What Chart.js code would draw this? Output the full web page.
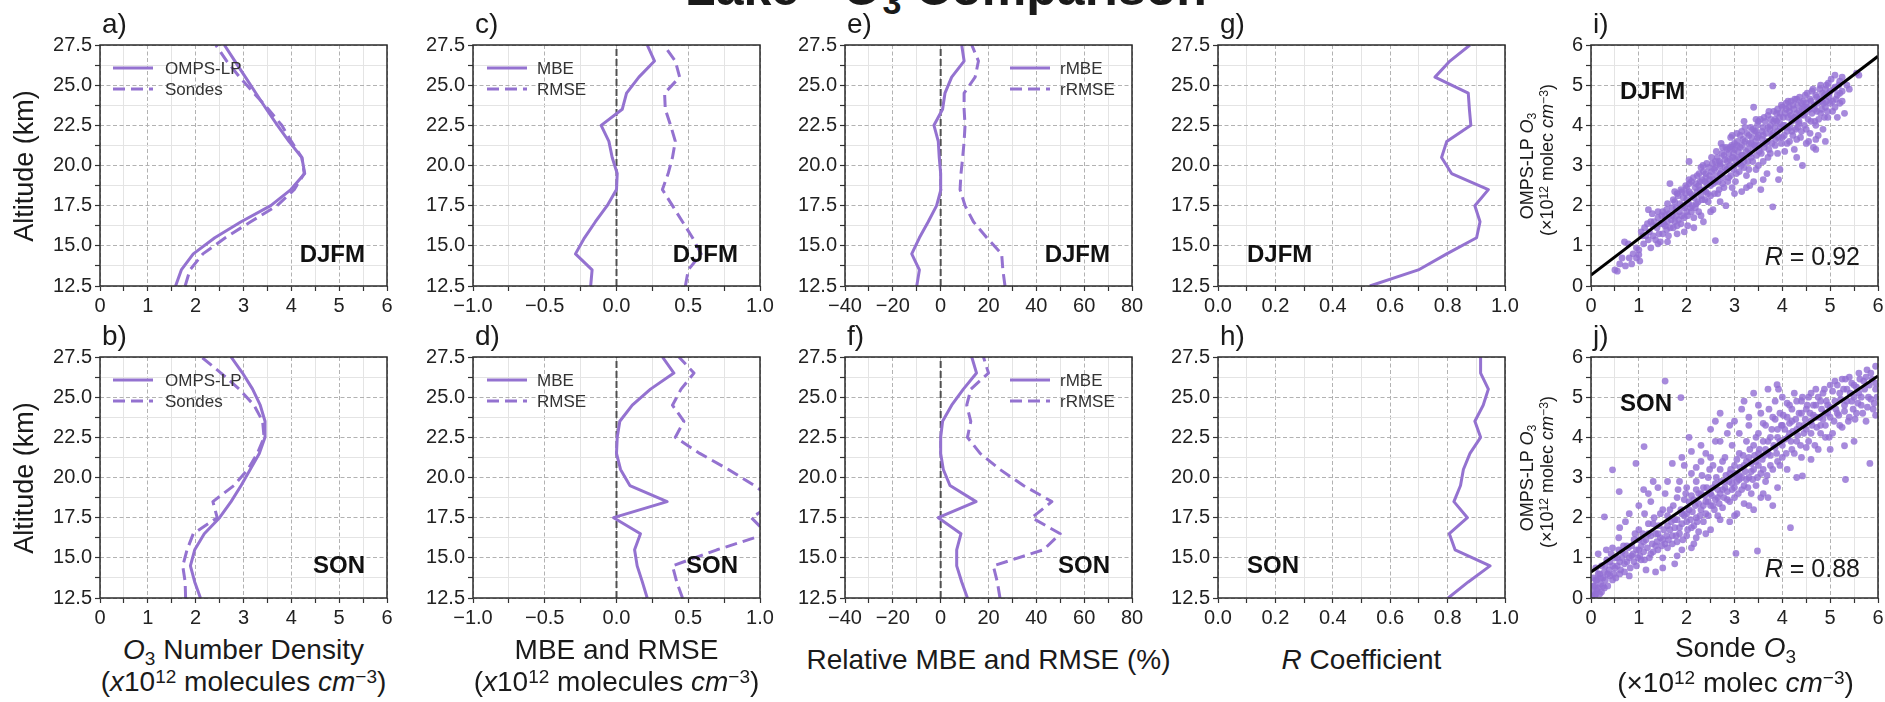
<!DOCTYPE html>
<html>
<head>
<meta charset="utf-8">
<script src="https://cdn.jsdelivr.net/npm/chart.js@4.4.0/dist/chart.umd.min.js"></script>
<style>
  html, body { margin: 0; padding: 0; background: #fff; }
  body { width: 1885px; height: 702px; position: relative; overflow: hidden;
         font-family: "Liberation Sans", Arial, Helvetica, sans-serif; color: #1a1a1a; }
  canvas { position: absolute; }
  .t { position: absolute; white-space: nowrap; line-height: 1; }
  .sup { position: relative; top: -0.45em; font-size: 0.68em; }
  .sub { position: relative; top: 0.28em; font-size: 0.68em; }
  i { font-style: italic; }
</style>
</head>
<body>
<script>
// ---- profile altitudes (km) ----
const altitude = [12.5, 13.5, 14.5, 15.5, 16.5, 17.5, 18.5, 19.5, 20.5, 21.5, 22.5, 23.5, 24.5, 25.5, 26.5, 27.5];

// ---- O3 number density profiles (x10^12 molecules cm^-3) ----
const ompsDJFM  = [1.58, 1.70, 1.95, 2.40, 2.95, 3.57, 3.99, 4.28, 4.22, 3.95, 3.71, 3.48, 3.26, 3.04, 2.82, 2.60];
const sondeDJFM = [1.78, 1.88, 2.15, 2.62, 3.15, 3.70, 4.06, 4.27, 4.22, 4.00, 3.80, 3.52, 3.22, 2.92, 2.65, 2.42];
const ompsSON   = [2.10, 1.98, 1.89, 1.98, 2.18, 2.50, 2.74, 2.95, 3.14, 3.33, 3.45, 3.45, 3.35, 3.19, 2.98, 2.74];
const sondeSON  = [1.79, 1.78, 1.73, 1.82, 1.95, 2.45, 2.36, 2.80, 3.09, 3.29, 3.43, 3.40, 3.22, 2.91, 2.53, 2.12];

// ---- absolute errors (x10^12 molecules cm^-3) ----
const mbeDJFM  = [-0.18, -0.17, -0.286, -0.223, -0.147, -0.065, 0.0, 0.005, -0.03, -0.053, -0.107, 0.04, 0.07, 0.156, 0.265, 0.214];
const rmseDJFM = [0.48, 0.50, 0.59, 0.53, 0.46, 0.39, 0.32, 0.36, 0.39, 0.41, 0.377, 0.34, 0.335, 0.44, 0.41, 0.33];
const mbeSON   = [0.214, 0.18, 0.144, 0.126, 0.167, -0.02, 0.353, 0.093, 0.028, 0.0, 0.005, 0.023, 0.11, 0.237, 0.40, 0.32];
const rmseSON  = [0.46, 0.42, 0.39, 0.70, 1.05, 0.94, 1.12, 0.96, 0.78, 0.58, 0.41, 0.47, 0.39, 0.45, 0.54, 0.435];

// ---- relative errors (%) ----
const rmbeDJFM  = [-10, -8.9, -12.1, -8.9, -5.2, -1.7, 0.1, 0, -0.6, -1.0, -2.8, 0.8, 1.8, 4.6, 9.8, 8.8];
const rrmseDJFM = [26.9, 26, 25.5, 19.3, 13.7, 10.2, 8.1, 8.5, 9.2, 9.8, 10.2, 9.8, 9.8, 14.4, 15.8, 13];
const rmbeSON   = [11.2, 8.8, 6.7, 6.7, 8.5, -1.0, 14.8, 3.9, 1.1, 0, 0, 0.8, 4.6, 9.5, 15, 13];
const rrmseSON  = [24.8, 23.7, 22, 43, 50, 38.1, 46.5, 34.6, 24.8, 16.5, 11.2, 12.6, 10.9, 12.6, 20, 17.9];

// ---- correlation coefficients ----
const rDJFM = [0.529, 0.698, 0.797, 0.901, 0.913, 0.895, 0.942, 0.814, 0.779, 0.797, 0.881, 0.876, 0.872, 0.756, 0.808, 0.878];
const rSON  = [0.802, 0.872, 0.948, 0.826, 0.806, 0.869, 0.822, 0.845, 0.855, 0.878, 0.915, 0.895, 0.924, 0.942, 0.915, 0.915];

// ---- collocated pairs [sonde, OMPS-LP] (x10^12 molec cm^-3), DJFM ----
const pairsDJFM = [
 [0.5,0.4],[0.55,0.37],[0.6,0.55],[0.65,0.7],[0.7,1.1],[0.72,0.5],[0.78,1.05],[0.8,0.7],[0.85,0.55],[0.88,0.8],
 [0.95,0.95],[1.0,0.9],[1.0,0.78],[1.02,0.62],[1.08,1.25],[1.12,1.45],[1.18,1.55],[1.2,1.9],[1.22,1.35],[1.28,1.8],
 [1.3,1.5],[1.35,1.15],[1.4,1.7],[1.42,1.3],[1.45,1.1],[1.5,1.85],[1.52,1.55],[1.55,1.75],[1.58,1.4],[1.6,2.05],
 [1.62,1.25],[1.65,2.55],[1.68,1.65],[1.7,1.95],[1.72,1.45],[1.75,2.1],[1.78,1.75],[1.8,1.3],[1.82,2.25],[1.85,1.85],
 [1.88,1.55],[1.9,2.35],[1.92,2.0],[1.95,1.7],[1.98,2.5],[2.0,2.15],[2.0,1.85],[2.02,1.5],[2.05,3.1],[2.05,2.35],
 [2.08,1.95],[2.1,2.6],[2.12,2.25],[2.15,1.7],[2.18,2.45],[2.2,2.05],[2.22,2.75],[2.25,1.85],[2.28,2.4],[2.3,2.95],
 [2.32,2.15],[2.35,1.6],[2.38,2.6],[2.4,2.35],[2.42,3.05],[2.45,2.1],[2.48,2.75],[2.5,2.5],[2.52,3.2],[2.55,1.9],
 [2.58,2.9],[2.6,1.13],[2.6,2.6],[2.62,3.35],[2.65,2.3],[2.68,3.1],[2.7,2.8],[2.72,3.55],[2.75,2.55],[2.78,3.25],
 [2.8,2.95],[2.82,2.0],[2.85,3.4],[2.88,2.7],[2.9,3.15],[2.92,3.7],[2.95,2.45],[2.98,3.3],[3.0,3.0],[3.0,3.55],
 [3.02,2.6],[3.05,3.8],[3.08,3.2],[3.1,2.85],[3.12,3.45],[3.15,2.35],[3.18,3.65],[3.2,3.1],[3.22,3.95],[3.25,2.75],
 [3.28,3.4],[3.3,3.75],[3.32,2.5],[3.35,3.2],[3.38,3.9],[3.4,4.45],[3.42,3.5],[3.45,2.9],[3.48,3.7],[3.5,4.1],
 [3.52,3.35],[3.55,2.4],[3.58,3.85],[3.6,3.1],[3.62,4.2],[3.65,3.55],[3.68,2.8],[3.7,3.95],[3.72,4.35],[3.75,3.3],
 [3.78,3.75],[3.8,4.98],[3.8,1.97],[3.82,4.1],[3.85,3.5],[3.88,4.3],[3.9,3.85],[3.92,2.65],[3.95,4.05],[3.98,4.5],
 [4.0,3.7],[4.02,4.2],[4.05,3.35],[4.08,4.4],[4.1,3.95],[4.12,4.6],[4.15,3.6],[4.18,4.25],[4.2,3.85],[4.22,4.5],
 [4.25,3.4],[4.28,4.15],[4.3,4.65],[4.32,3.95],[4.35,4.35],[4.38,3.7],[4.4,4.55],[4.42,3.0],[4.45,4.25],[4.48,4.75],
 [4.5,3.9],[4.52,4.45],[4.55,3.6],[4.58,4.65],[4.6,4.1],[4.62,4.85],[4.65,3.45],[4.68,4.4],[4.7,4.0],[4.72,4.7],
 [4.75,3.75],[4.78,4.9],[4.8,4.3],[4.82,4.6],[4.85,3.9],[4.88,4.75],[4.9,4.45],[4.92,5.0],[4.95,4.2],[4.98,4.8],
 [5.0,4.55],[5.02,5.15],[5.05,4.35],[5.08,4.9],[5.1,5.25],[5.12,4.65],[5.15,4.2],[5.18,5.0],[5.2,4.8],[5.25,4.6],
 [5.55,5.3],[3.05,3.5],[3.15,3.25],[3.35,3.55],[3.45,3.85],[3.6,3.75],[3.75,4.0],[3.85,4.15],[3.95,4.3],[4.05,4.0],
 [4.15,4.35],[4.25,4.2],[4.35,4.1],[4.45,4.45],[2.4,2.7],[2.55,2.65],[2.7,3.0],[2.85,3.1],[2.95,3.45],[2.25,2.5],
 [1.1,1.05],[1.15,1.25],[1.2,1.15],[1.25,1.6],[1.3,1.25],[1.32,1.6],[1.38,1.45],[1.4,1.85],[1.45,1.55],[1.48,1.75],
 [1.5,1.3],[1.55,1.5],[1.58,1.9],[1.6,1.6],[1.63,1.8],[1.66,1.45],[1.7,1.75],[1.72,2.15],[1.75,1.6],[1.78,1.95],
 [1.8,2.3],[1.83,1.65],[1.86,2.05],[1.88,2.4],[1.9,1.75],[1.93,2.2],[1.96,1.95],[1.98,2.3],[2.0,2.45],[2.02,1.75],
 [2.04,2.05],[2.06,2.55],[2.08,2.3],[2.1,1.85],[2.12,2.0],[2.14,2.7],[2.16,2.2],[2.18,1.95],[2.2,2.55],[2.22,2.35],
 [2.24,2.1],[2.26,2.8],[2.28,2.6],[2.3,2.25],[2.32,2.65],[2.34,3.0],[2.36,2.4],[2.38,2.15],[2.4,2.8],[2.42,2.55],
 [2.44,2.3],[2.46,2.95],[2.48,2.65],[2.5,2.25],[2.52,2.85],[2.54,3.05],[2.56,2.55],[2.58,2.3],[2.6,2.95],[2.62,2.75],
 [2.64,3.2],[2.66,2.6],[2.68,2.4],[2.7,3.05],[2.72,2.85],[2.74,3.3],[2.76,2.7],[2.78,2.45],[2.8,3.15],[2.82,3.45],
 [2.84,2.9],[2.86,2.6],[2.88,3.3],[2.9,3.0],[2.92,2.75],[2.94,3.5],[2.96,3.2],[2.98,2.9],[3.0,3.4],[3.02,3.15],
 [3.04,2.8],[3.06,3.6],[3.08,3.35],[3.1,3.05],[3.12,3.75],[3.14,3.0],[3.16,3.5],[3.18,3.25],[3.2,2.95],[3.22,3.6],
 [3.24,3.35],[3.26,3.8],[3.28,3.1],[3.3,3.55],[3.32,3.3],[3.34,3.95],[3.36,3.7],[3.38,3.1],[3.4,3.45],[3.42,3.85],
 [3.44,3.6],[3.46,3.25],[3.48,4.0],[3.5,3.75],[3.52,3.5],[3.54,4.15],[3.56,3.3],[3.58,3.65],[3.6,3.95],[3.62,3.45],
 [3.64,4.1],[3.66,3.8],[3.68,3.6],[3.7,4.25],[3.72,3.4],[3.74,3.9],[3.76,4.15],[3.78,3.55],[3.8,3.8],[3.82,4.35],
 [3.84,3.95],[3.86,3.65],[3.88,4.1],[3.9,4.4],[3.92,3.7],[3.94,4.2],[3.96,3.95],[3.98,3.55],[4.0,4.45],[4.02,4.0],
 [4.04,3.75],[4.06,4.3],[4.08,4.55],[4.1,3.85],[4.12,4.2],[4.14,4.45],[4.16,3.95],[4.18,4.6],[4.2,4.1],[4.22,3.75],
 [4.24,4.4],[4.26,4.65],[4.28,3.9],[4.3,4.3],[4.32,4.5],[4.34,4.05],[4.36,4.7],[4.38,4.25],[4.4,3.85],[4.42,4.4],
 [4.44,4.6],[4.46,4.0],[4.48,4.3],[4.5,4.55],[4.52,4.8],[4.54,4.15],[4.56,4.4],[4.58,3.8],[4.6,4.6],[4.62,4.3],
 [4.64,4.9],[4.66,4.5],[4.68,4.1],[4.7,4.75],[4.72,4.35],[4.74,4.55],[4.76,4.15],[4.78,4.65],[4.8,5.0],[4.82,4.4],
 [4.84,4.8],[4.86,4.55],[4.88,4.2],[4.9,4.9],[4.92,4.6],[4.94,4.35],[4.96,5.05],[4.98,4.7],[5.0,4.85],[5.05,4.6],
 [5.1,4.95],[5.15,4.75],[5.2,5.1],[5.25,4.85],[5.3,4.3],[5.35,5.0],[5.2,4.55],[5.6,5.25],[5.4,4.9],[3.3,2.9],
 [3.5,3.0],[3.7,3.2],[3.9,3.3],[4.1,3.55],[4.3,3.65],[4.5,3.55],[4.7,3.65],[4.3,3.2],[3.6,2.65],[3.4,2.6],
 [3.95,2.9],[3.25,2.45],[3.0,2.3],[2.7,2.1],[2.5,1.85],[2.3,1.75],[2.15,1.45],[1.95,1.35],[1.8,1.5],[1.6,1.1],
 [1.4,1.05],[1.25,0.95],[1.05,1.35],[0.95,0.7],[1.75,2.35],[2.05,2.65],[2.35,2.85],[2.6,3.1],[2.9,3.45],[3.15,3.85],
 [3.45,4.15],[3.2,4.1],[2.95,3.75],[2.75,3.45],[4.7,3.4],[4.9,3.6],[5.1,4.45],[5.25,5.2]
];

// ---- collocated pairs [sonde, OMPS-LP] (x10^12 molec cm^-3), SON ----
const pairsSON = [
 [0.02,0.05],[0.05,0.15],[0.08,0.3],[0.1,0.1],[0.12,0.45],[0.15,0.25],[0.05,0.5],[0.18,0.6],[0.2,0.35],[0.1,0.75],
 [0.22,0.15],[0.25,0.5],[0.3,0.8],[0.15,1.1],[0.28,0.25],[0.35,0.6],[0.4,0.9],[0.32,1.2],[0.45,0.45],[0.5,0.75],
 [0.55,1.0],[0.45,1.25],[0.6,0.6],[0.65,1.15],[0.7,0.85],[0.58,1.5],[0.75,1.3],[0.8,0.55],[0.85,1.05],[0.9,1.45],
 [0.72,1.9],[0.95,0.8],[1.0,1.2],[1.0,1.7],[1.05,0.95],[1.1,1.4],[1.12,2.1],[1.15,0.7],[1.2,1.6],[1.25,1.1],
 [1.25,2.4],[1.3,1.85],[1.35,1.3],[1.35,0.65],[1.4,1.6],[1.45,2.1],[1.5,1.0],[1.5,1.45],[1.55,2.6],[1.6,1.8],
 [1.6,1.25],[1.65,2.2],[1.7,1.55],[1.7,3.35],[1.75,1.95],[1.75,0.85],[1.8,2.5],[1.8,1.4],[1.85,2.9],[1.85,1.75],
 [1.9,2.1],[1.9,1.2],[1.95,2.45],[1.95,3.3],[2.0,1.9],[2.0,1.55],[2.0,2.75],[2.05,4.0],[2.05,2.2],[2.1,1.75],
 [2.1,3.1],[2.15,2.45],[2.15,1.35],[2.2,2.0],[2.2,2.9],[2.25,2.6],[2.25,1.65],[2.3,3.4],[2.3,2.2],[2.35,1.9],
 [2.35,2.75],[2.4,3.6],[2.4,2.4],[2.45,2.05],[2.45,3.0],[2.5,2.6],[2.5,4.2],[2.5,1.7],[2.55,3.3],[2.55,2.3],
 [2.6,2.85],[2.6,3.9],[2.65,2.5],[2.65,2.05],[2.7,3.2],[2.7,4.6],[2.75,2.7],[2.75,2.25],[2.8,3.5],[2.8,2.9],
 [2.85,4.1],[2.85,2.45],[2.9,3.1],[2.9,1.9],[2.95,2.7],[2.95,3.8],[3.0,3.3],[3.0,2.5],[3.0,4.4],[3.05,2.9],
 [3.05,2.1],[3.1,3.6],[3.1,3.05],[3.15,2.7],[3.15,4.7],[3.2,3.3],[3.2,2.35],[3.25,3.9],[3.25,2.95],[3.3,3.5],
 [3.3,4.3],[3.35,2.6],[3.35,3.15],[3.4,3.8],[3.4,5.1],[3.45,3.4],[3.45,2.8],[3.5,4.1],[3.5,3.6],[3.55,2.5],
 [3.55,4.6],[3.6,3.9],[3.6,3.2],[3.65,4.3],[3.65,2.9],[3.7,3.6],[3.7,5.2],[3.75,4.0],[3.75,3.3],[3.8,4.5],
 [3.8,2.3],[3.85,3.75],[3.85,4.9],[3.9,4.2],[3.9,3.4],[3.95,4.6],[3.95,3.9],[4.0,4.3],[4.0,3.5],[4.0,5.0],
 [4.05,3.95],[4.1,4.5],[4.1,3.2],[4.15,4.8],[4.15,4.1],[4.2,3.7],[4.2,4.4],[4.25,5.1],[4.3,4.2],[4.3,3.9],
 [4.35,4.6],[4.4,3.5],[4.4,4.9],[4.45,4.3],[4.5,4.7],[4.5,3.75],[4.55,5.0],[4.6,4.4],[4.6,4.1],[4.65,4.8],
 [4.7,4.5],[4.7,5.2],[4.75,3.7],[4.8,4.3],[4.8,4.9],[4.85,5.1],[4.9,4.6],[4.9,4.0],[4.95,4.8],[5.0,5.3],
 [5.0,4.5],[5.05,4.1],[5.1,4.9],[5.1,5.4],[5.15,4.6],[5.2,5.1],[5.2,4.3],[5.25,5.45],[5.3,4.8],[5.35,5.2],
 [5.4,4.5],[5.4,5.5],[5.45,4.9],[5.5,5.3],[5.55,4.6],[5.6,5.1],[5.6,5.6],[5.65,4.8],[5.7,5.4],[5.75,4.4],
 [5.8,5.0],[5.85,5.6],[5.9,4.7],[5.95,5.2],[5.95,4.55],
 [1.55,5.4],[1.88,4.99],[0.45,3.19],[0.28,2.02],[0.94,3.35],[1.11,3.77],[0.59,2.65],[3.03,1.11],[3.48,1.17],[4.17,1.75],
 [5.32,2.95],[5.83,3.35],[4.42,3.04],[5.3,3.79],[3.89,5.31],[5.77,5.68],[5.95,5.77],
 [0.05,0.3],[0.08,0.05],[0.1,0.45],[0.12,0.2],[0.15,0.6],[0.18,0.1],[0.2,0.5],[0.22,0.8],[0.25,0.3],[0.28,0.65],
 [0.3,0.45],[0.33,0.95],[0.35,0.3],[0.38,0.7],[0.4,0.55],[0.42,1.1],[0.45,0.8],[0.48,0.6],[0.5,1.0],[0.52,0.5],
 [0.55,0.8],[0.58,1.2],[0.6,0.9],[0.62,0.7],[0.65,1.0],[0.68,1.3],[0.7,0.65],[0.72,1.1],[0.75,0.9],[0.78,1.25],
 [0.8,1.0],[0.82,0.75],[0.85,1.3],[0.88,1.1],[0.9,0.9],[0.92,1.6],[0.95,1.2],[0.98,1.0],
 [1.0,1.45],[1.02,1.05],[1.05,1.3],[1.08,1.6],[1.1,1.15],[1.12,0.95],[1.15,1.45],[1.18,1.25],[1.2,1.85],[1.22,1.0],
 [1.25,1.55],[1.28,1.35],[1.3,1.15],[1.32,2.0],[1.35,1.6],[1.38,1.4],[1.4,1.2],[1.42,1.8],[1.45,1.5],[1.48,1.3],
 [1.5,2.2],[1.52,1.7],[1.55,1.35],[1.58,1.55],[1.6,2.05],[1.62,1.45],[1.65,1.7],[1.68,1.9],[1.7,1.35],[1.72,2.3],
 [1.75,1.75],[1.78,1.55],[1.8,1.95],[1.82,2.7],[1.85,1.6],[1.88,2.2],[1.9,1.85],[1.92,1.45],[1.95,2.05],[1.98,2.6],
 [2.0,2.1],[2.02,1.7],[2.05,2.4],[2.08,1.95],[2.1,2.55],[2.12,2.15],[2.15,1.8],[2.18,2.3],[2.2,2.7],[2.22,1.9],
 [2.25,2.35],[2.28,2.05],[2.3,2.6],[2.32,3.05],[2.35,2.3],[2.38,2.55],[2.4,2.1],[2.42,2.75],[2.45,2.4],[2.48,3.2],
 [2.5,2.3],[2.52,2.55],[2.55,2.75],[2.58,2.2],[2.6,2.45],[2.62,3.0],[2.65,2.7],[2.68,2.35],[2.7,2.6],[2.72,2.9],
 [2.75,3.4],[2.78,2.5],[2.8,2.75],[2.82,3.05],[2.85,2.65],[2.88,2.9],[2.9,2.4],[2.92,3.2],[2.95,2.85],[2.98,3.0],
 [3.0,2.75],[3.02,3.1],[3.05,3.45],[3.08,2.6],[3.1,2.95],[3.12,3.25],[3.15,3.0],[3.18,3.55],[3.2,2.8],[3.22,3.15],
 [3.25,3.4],[3.28,2.75],[3.3,3.0],[3.32,3.7],[3.35,3.35],[3.38,2.95],[3.4,3.2],[3.42,3.55],[3.45,4.0],[3.48,3.0],
 [3.5,3.3],[3.52,3.7],[3.55,3.1],[3.58,3.45],[3.6,4.35],[3.62,3.55],[3.65,3.7],[3.68,3.05],[3.7,3.9],[3.72,4.7],
 [3.75,3.55],[3.78,4.2],[3.8,3.2],[3.82,3.8],[3.85,4.45],[3.88,3.6],[3.9,4.0],[3.92,5.2],[3.95,3.3],[3.98,4.3],
 [4.0,3.8],[4.02,4.55],[4.05,4.2],[4.08,3.6],[4.1,4.85],[4.12,4.0],[4.15,4.35],[4.18,3.9],[4.2,4.7],[4.22,4.15],
 [4.25,3.6],[4.28,4.45],[4.3,4.9],[4.32,4.05],[4.35,4.3],[4.38,3.8],[4.4,4.6],[4.42,5.0],[4.45,4.1],[4.48,4.45],
 [4.5,4.2],[4.52,4.8],[4.55,3.9],[4.58,4.6],[4.6,5.1],[4.62,4.3],[4.65,4.55],[4.68,3.8],[4.7,4.8],[4.72,4.25],
 [4.75,5.0],[4.78,4.5],[4.8,4.1],[4.82,4.7],[4.85,4.45],[4.88,5.2],[4.9,4.3],[4.92,4.9],[4.95,4.6],[4.98,4.0],
 [5.0,4.75],[5.05,5.15],[5.08,4.4],[5.12,4.7],[5.15,5.3],[5.18,4.55],[5.22,4.95],[5.25,4.25],[5.28,5.2],[5.3,4.65],
 [5.32,5.45],[5.35,4.9],[5.38,4.4],[5.42,5.1],[5.45,5.35],[5.48,4.7],[5.5,5.0],[5.52,4.45],[5.55,5.25],[5.58,4.85],
 [5.62,5.45],[5.65,5.0],[5.68,4.6],[5.72,5.2],[5.75,5.5],[5.78,4.75],[5.82,5.3],[5.85,4.95],[5.88,5.45],[5.92,4.85],
 [5.95,5.35],[5.98,5.0],
 [1.2,2.6],[1.4,2.75],[1.6,2.9],[1.9,3.5],[2.1,3.65],[2.3,3.8],[2.5,3.5],[2.7,3.9],[2.9,4.3],[2.6,4.4],
 [2.2,3.25],[3.1,4.1],[3.3,4.5],[3.5,4.8],[3.2,4.9],[1.3,2.9],[0.8,2.1],[1.0,2.3],[0.6,1.75],[1.1,2.7],
 [1.8,1.05],[2.1,1.25],[2.4,1.6],[2.7,1.95],[3.0,2.05],[3.3,2.3],[3.6,2.6],[3.9,2.75],[2.2,1.5],[1.5,0.75],
 [3.4,2.2],[4.3,3.0],[4.6,3.45],[5.0,3.7],[5.5,3.9],[3.7,2.5]
];

// ---- least-squares fit end points [sonde, OMPS-LP] ----
const fitDJFM = [[0, 0.27], [6, 5.72]];
const fitSON  = [[0, 0.65], [6, 5.53]];

// ---- axis ranges: [min, max, major step, minor step, decimals] ----
const altAxis     = [12.5, 27.5, 2.5, 1.25, 1];
const densityAxis = [0, 6, 1, 0.5, 0];
const absErrAxis  = [-1, 1, 0.5, 0.25, 1];
const relErrAxis  = [-40, 80, 20, 10, 0];
const corrAxis    = [0, 1, 0.2, 0.1, 1];

const FONT = '"Liberation Sans", Arial, Helvetica, sans-serif';
const PURPLE = '#9472d0';
const DOT = 'rgba(148,112,212,0.82)';
const DASH = [12, 6];

// plot-area placement
const COLS = [100, 473, 845, 1218, 1591];
const ROWS = [45, 357];
const PW = 287, PH = 241;

function axis([min, max, major, minor, dec]) {
  const fmt = v => (v < -1e-9 ? '\u2212' : '') + Math.abs(v).toFixed(dec);
  return {
    type: 'linear', min, max,
    afterBuildTicks(scale) {
      const n = Math.round((max - min) / minor);
      const ticks = [];
      for (let i = 0; i <= n; i++) {
        const v = +(min + i * minor).toFixed(6);
        const q = v / major;
        ticks.push({ value: v, major: Math.abs(q - Math.round(q)) < 1e-6 });
      }
      scale.ticks = ticks;
    },
    ticks: {
      autoSkip: false, maxRotation: 0, minRotation: 0, padding: 3,
      color: '#222', font: { family: FONT, size: 20 },
      callback(v, i, t) { return t[i] && t[i].major ? fmt(v) : ''; }
    },
    grid: {
      drawOnChartArea: true, drawTicks: true, tickLength: 5,
      lineWidth: 1,
      color: c => (c.tick && c.tick.major) ? '#b2b2b2' : '#e4e4e4',
      tickColor: '#333', tickWidth: 1.2
    },
    border: {
      display: false,
      dash: c => (c.tick && c.tick.major) ? [4, 2.5] : []
    }
  };
}

const framePlugin = {
  id: 'frame',
  afterDatasetsDraw(chart) {
    const { ctx, chartArea: a } = chart;
    ctx.save();
    ctx.setLineDash([]);
    ctx.strokeStyle = '#2a2a2a';
    ctx.lineWidth = 1.5;
    ctx.strokeRect(a.left, a.top, a.right - a.left, a.bottom - a.top);
    ctx.restore();
  }
};

const keyPlugin = {
  id: 'seriesKey',
  afterDatasetsDraw(chart, args, o) {
    if (!o || o.x === undefined) return;
    const { ctx, chartArea: a } = chart;
    let y = a.top + o.y;
    chart.data.datasets.forEach(ds => {
      if (!ds.label) return;
      ctx.save();
      ctx.strokeStyle = ds.borderColor;
      ctx.lineWidth = ds.borderWidth;
      ctx.setLineDash(ds.borderDash || []);
      ctx.beginPath();
      ctx.moveTo(a.left + o.x, y);
      ctx.lineTo(a.left + o.x + o.len, y);
      ctx.stroke();
      ctx.setLineDash([]);
      ctx.fillStyle = '#333';
      ctx.font = '17px ' + FONT;
      ctx.textBaseline = 'middle';
      ctx.fillText(ds.label, a.left + o.textX, y + 1);
      ctx.restore();
      y += o.dy;
    });
  }
};

function makeChart(col, row, xAx, yAx, datasets, key) {
  const L = 70, T = 16, R = 26, B = 34;
  const w = PW + L + R, h = PH + T + B;
  const cv = document.createElement('canvas');
  cv.width = w; cv.height = h;
  cv.style.left = (COLS[col] - L) + 'px';
  cv.style.top = (ROWS[row] - T) + 'px';
  cv.style.width = w + 'px';
  cv.style.height = h + 'px';
  document.body.appendChild(cv);
  xAx.afterFit = s => { s.height = B; };
  yAx.afterFit = s => { s.width = L; };
  return new Chart(cv, {
    type: 'scatter',
    data: { datasets },
    options: {
      responsive: false, animation: false, devicePixelRatio: 1, events: [],
      layout: { padding: { left: 0, top: T, right: R, bottom: 0 } },
      scales: { x: xAx, y: yAx },
      plugins: { legend: { display: false }, tooltip: { enabled: false }, seriesKey: key || {} }
    },
    plugins: [framePlugin, keyPlugin]
  });
}

function profile(label, values, dashed) {
  return {
    label, data: altitude.map((a, i) => ({ x: values[i], y: a })),
    showLine: true, borderColor: PURPLE, borderWidth: 3, borderDash: dashed ? DASH : [],
    borderJoinStyle: 'round', pointRadius: 0, clip: 0, order: 0, tension: 0
  };
}
function zeroLine() {
  return {
    data: [{ x: 0, y: altAxis[0] }, { x: 0, y: altAxis[1] }],
    showLine: true, borderColor: '#505050', borderWidth: 2, borderDash: [7, 3],
    pointRadius: 0, order: 2
  };
}
function cloud(pairs) {
  return {
    data: pairs.map(([x, y]) => ({ x, y })), showLine: false,
    pointRadius: 3.4, pointBackgroundColor: DOT, pointBorderWidth: 0, order: 1
  };
}
function fitLine(ends) {
  return {
    data: ends.map(([x, y]) => ({ x, y })), showLine: true,
    borderColor: '#000', borderWidth: 3, pointRadius: 0, order: 0, clip: 0
  };
}

const keyLeft  = { x: 13, len: 40, textX: 65, y: 23, dy: 21 };
const keyRight = { x: 165, len: 40, textX: 215, y: 23, dy: 21 };

// a) / b) number density profiles
makeChart(0, 0, axis(densityAxis), axis(altAxis),
  [profile('OMPS-LP', ompsDJFM, false), profile('Sondes', sondeDJFM, true)], keyLeft);
makeChart(0, 1, axis(densityAxis), axis(altAxis),
  [profile('OMPS-LP', ompsSON, false), profile('Sondes', sondeSON, true)], keyLeft);
// c) / d) MBE and RMSE
makeChart(1, 0, axis(absErrAxis), axis(altAxis),
  [profile('MBE', mbeDJFM, false), profile('RMSE', rmseDJFM, true), zeroLine()], { ...keyLeft, x: 14, textX: 64 });
makeChart(1, 1, axis(absErrAxis), axis(altAxis),
  [profile('MBE', mbeSON, false), profile('RMSE', rmseSON, true), zeroLine()], { ...keyLeft, x: 14, textX: 64 });
// e) / f) relative MBE and RMSE
makeChart(2, 0, axis(relErrAxis), axis(altAxis),
  [profile('rMBE', rmbeDJFM, false), profile('rRMSE', rrmseDJFM, true), zeroLine()], keyRight);
makeChart(2, 1, axis(relErrAxis), axis(altAxis),
  [profile('rMBE', rmbeSON, false), profile('rRMSE', rrmseSON, true), zeroLine()], keyRight);
// g) / h) correlation coefficient
makeChart(3, 0, axis(corrAxis), axis(altAxis), [profile('', rDJFM, false)]);
makeChart(3, 1, axis(corrAxis), axis(altAxis), [profile('', rSON, false)]);
// i) / j) scatter with fit
makeChart(4, 0, axis(densityAxis), axis(densityAxis), [fitLine(fitDJFM), cloud(pairsDJFM)]);
makeChart(4, 1, axis(densityAxis), axis(densityAxis), [fitLine(fitSON), cloud(pairsSON)]);

// ---- text ----
function txt(html, x, base, size, align, extra) {
  const d = document.createElement('div');
  d.className = 't';
  d.innerHTML = html;
  d.style.left = x + 'px';
  d.style.top = (base - 0.85 * size) + 'px';
  d.style.fontSize = size + 'px';
  if (align === 'center') d.style.transform = 'translateX(-50%)';
  if (align === 'right') d.style.transform = 'translateX(-100%)';
  if (extra) d.style.cssText += extra;
  document.body.appendChild(d);
}
function vtxt(html, cx, cy, size) {
  const d = document.createElement('div');
  d.className = 't';
  d.innerHTML = html;
  d.style.left = cx + 'px';
  d.style.top = cy + 'px';
  d.style.fontSize = size + 'px';
  d.style.transform = 'translate(-50%,-50%) rotate(-90deg)';
  document.body.appendChild(d);
}

txt('Lake - <i>O</i><span class="sub">3</span> Comparison', 946, 5, 50, 'center', 'font-weight:bold;');

const letters = [['a)', 'c)', 'e)', 'g)', 'i)'], ['b)', 'd)', 'f)', 'h)', 'j)']];
letters.forEach((rowL, r) => rowL.forEach((l, c) => txt(l, COLS[c] + 2, r ? 346 : 34, 28)));

const bold = 'font-weight:bold;color:#111;';
txt('DJFM', COLS[0] + PW - 22, 262, 24, 'right', bold);
txt('SON',  COLS[0] + PW - 22, 573, 24, 'right', bold);
txt('DJFM', COLS[1] + PW - 22, 262, 24, 'right', bold);
txt('SON',  COLS[1] + PW - 22, 573, 24, 'right', bold);
txt('DJFM', COLS[2] + PW - 22, 262, 24, 'right', bold);
txt('SON',  COLS[2] + PW - 22, 573, 24, 'right', bold);
txt('DJFM', COLS[3] + 29, 262, 24, 'left', bold);
txt('SON',  COLS[3] + 29, 573, 24, 'left', bold);
txt('DJFM', COLS[4] + 29, 99, 24, 'left', bold);
txt('SON',  COLS[4] + 29, 411, 24, 'left', bold);

txt('<i>R</i> = 0.92', COLS[4] + PW - 18, 265, 25, 'right');
txt('<i>R</i> = 0.88', COLS[4] + PW - 18, 577, 25, 'right');

vtxt('Altitude (km)', 24, ROWS[0] + PH / 2, 27);
vtxt('Altitude (km)', 24, ROWS[1] + PH / 2, 27);
[0, 1].forEach(r => {
  vtxt('OMPS-LP <i>O</i><span class="sub">3</span>', 1527, ROWS[r] + PH / 2, 18);
  vtxt('(\u00d710<span class="sup">12</span> molec <i>cm</i><span class="sup">\u22123</span>)', 1547, ROWS[r] + PH / 2 - 6, 18);
});

const xc = c => COLS[c] + PW / 2;
txt('<i>O</i><span class="sub">3</span> Number Density', xc(0), 660, 28, 'center');
txt('(<i>x</i>10<span class="sup">12</span> molecules <i>cm</i><span class="sup">\u22123</span>)', xc(0), 692, 28, 'center');
txt('MBE and RMSE', xc(1), 660, 28, 'center');
txt('(<i>x</i>10<span class="sup">12</span> molecules <i>cm</i><span class="sup">\u22123</span>)', xc(1), 692, 28, 'center');
txt('Relative MBE and RMSE (%)', xc(2), 670, 28, 'center');
txt('<i>R</i> Coefficient', xc(3), 670, 28, 'center');
txt('Sonde <i>O</i><span class="sub">3</span>', xc(4) + 1, 658, 28, 'center');
txt('(\u00d710<span class="sup">12</span> molec <i>cm</i><span class="sup">\u22123</span>)', xc(4) + 1, 693, 28, 'center');
</script>
</body>
</html>
